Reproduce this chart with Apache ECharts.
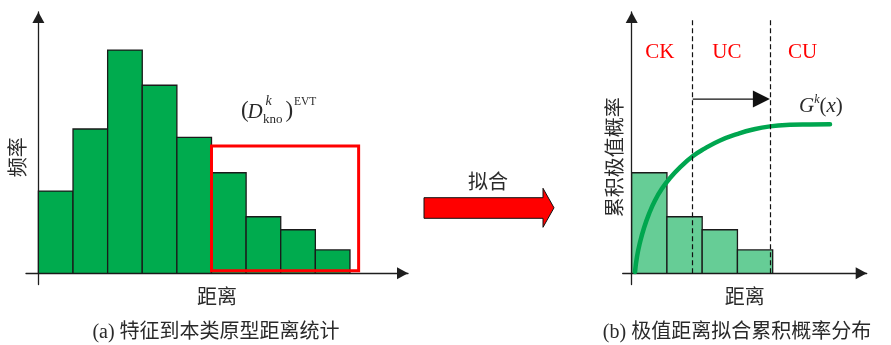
<!DOCTYPE html>
<html>
<head>
<meta charset="utf-8">
<script src="https://cdn.jsdelivr.net/npm/echarts@6/dist/echarts.min.js"></script>
<style>
  html, body { margin: 0; padding: 0; background: #fff; }
  #chart { width: 891px; height: 345px; }
</style>
</head>
<body>
<div id="chart"></div>
<script>
// Frequency of feature-to-prototype distances, one value per distance bin
const freq = [3.74, 6.56, 10.15, 8.55, 6.18, 4.57, 2.57, 1.98, 1.06];
// Bins from this index on form the tail used for the extreme-value fit
const tailStart = 5;
const tailFreq = freq.slice(tailStart);
// Tail selection box: [x from, x to, y from, y to] in bin / frequency units
const tailBox = [tailStart, 9.25, 0.12, 5.79];
// Fitted cumulative extreme-value curve G^k(x)
const curveX = [0.094, 0.15, 0.235, 0.349, 0.491, 0.661, 0.86, 1.087, 1.37, 1.73, 2.08, 2.506, 2.988, 3.442, 3.924, 4.491, 5.058, 5.626];
const curveY = [0.06, 0.745, 1.40, 2.06, 2.70, 3.31, 3.85, 4.33, 4.81, 5.32, 5.68, 6.04, 6.33, 6.54, 6.68, 6.75, 6.77, 6.78];
// Region thresholds along the distance axis and the region names
const thresholds = [1.73, 3.92];
const thresholdTop = 11.5;
const regionNames = ['CK', 'UC', 'CU'];
const regionCenters = [0.8, 2.7, 4.85];
const regionLabelY = 10.04;
const shiftArrowY = 7.92;

const AXIS_COLOR = '#1e1e1e';
const TEXT_COLOR = '#2a2a2a';
const CJK = "'Noto Sans CJK SC', sans-serif";
const SERIF = "'Liberation Serif', 'DejaVu Serif', serif";
const MIXED = "'Liberation Serif', 'Noto Sans CJK SC', serif";

function axisLine() {
  return {
    show: true,
    onZero: true,
    symbol: ['none', 'triangle'],
    symbolSize: [12, 11],
    symbolOffset: [0, -5.5],
    lineStyle: { color: AXIS_COLOR, width: 1.3 }
  };
}

function valueAxis(gridIndex, min, max, name, extra) {
  return Object.assign({
    type: 'value',
    gridIndex,
    min, max,
    name,
    nameLocation: 'middle',
    nameTextStyle: { fontFamily: CJK, fontSize: 20, color: TEXT_COLOR },
    axisLine: axisLine(),
    axisTick: { show: false },
    axisLabel: { show: false },
    splitLine: { show: false }
  }, extra || {});
}

// Histogram bars: each datum is [bin start, bin end, frequency]
function histogramItem(fill) {
  return function (params, api) {
    const p0 = api.coord([api.value(0), 0]);
    const p1 = api.coord([api.value(1), api.value(2)]);
    return {
      type: 'rect',
      shape: { x: p0[0], y: p1[1], width: p1[0] - p0[0], height: p0[1] - p1[1] },
      style: { fill, stroke: '#1a1a1a', lineWidth: 1.3 }
    };
  };
}

const chart = echarts.init(document.getElementById('chart'), null, { renderer: 'canvas' });

chart.setOption({
  animation: false,
  backgroundColor: '#fff',
  grid: [
    { left: 26, right: 483, top: 12, bottom: 60.5, outerBoundsMode: 'none', containLabel: false },
    { left: 622.7, right: 24.3, top: 12, bottom: 60.5, outerBoundsMode: 'none', containLabel: false }
  ],
  xAxis: [
    valueAxis(0, -0.358, 10.676, '距离', { nameGap: 1.5 }),
    valueAxis(1, -0.255, 6.667, '距离', { nameGap: 1.5 })
  ],
  yAxis: [
    valueAxis(0, -0.51, 11.88, '频率', {
      nameGap: -1.8,
      nameTextStyle: { fontFamily: CJK, fontSize: 20, color: TEXT_COLOR, padding: [0, 18, 0, 0] }
    }),
    valueAxis(1, -0.51, 11.88, '累积极值概率', {
      nameGap: -1.8,
      nameTextStyle: { fontFamily: CJK, fontSize: 20, color: TEXT_COLOR, padding: [0, 18, 0, 0] }
    })
  ],
  series: [
    {
      name: '频率',
      type: 'custom',
      xAxisIndex: 0, yAxisIndex: 0,
      renderItem: histogramItem('#00ab4e'),
      data: freq.map((v, i) => [i, i + 1, v]),
      z: 2
    },
    {
      name: 'EVT 区间',
      type: 'custom',
      xAxisIndex: 0, yAxisIndex: 0,
      renderItem: function (params, api) {
        const a = api.coord([api.value(0), api.value(2)]);
        const b = api.coord([api.value(1), api.value(3)]);
        return {
          type: 'rect',
          shape: { x: a[0], y: b[1], width: b[0] - a[0], height: a[1] - b[1] },
          style: { fill: 'none', stroke: '#ff0000', lineWidth: 3 }
        };
      },
      data: [tailBox],
      z: 4
    },
    {
      name: '尾部频率',
      type: 'custom',
      xAxisIndex: 1, yAxisIndex: 1,
      renderItem: histogramItem('#66cd96'),
      data: tailFreq.map((v, i) => [i, i + 1, v]),
      z: 2
    },
    {
      name: 'G^k(x)',
      type: 'line',
      xAxisIndex: 1, yAxisIndex: 1,
      data: curveX.map((x, i) => [x, curveY[i]]),
      smooth: 0.5,
      showSymbol: false,
      lineStyle: { color: '#00a64f', width: 4.5, cap: 'round', join: 'round' },
      z: 3,
      markLine: {
        silent: true,
        symbol: 'none',
        label: { show: false },
        lineStyle: { color: '#111', width: 1.2, type: [5, 3] },
        data: thresholds.map(t => [{ coord: [t, 0] }, { coord: [t, thresholdTop] }])
      }
    },
    {
      name: '阈值移动',
      type: 'custom',
      xAxisIndex: 1, yAxisIndex: 1,
      renderItem: function (params, api) {
        const p0 = api.coord([api.value(0), api.value(2)]);
        const p1 = api.coord([api.value(1), api.value(2)]);
        const head = 17;
        return {
          type: 'group',
          children: [
            { type: 'line', shape: { x1: p0[0], y1: p0[1], x2: p1[0] - head + 1, y2: p1[1] },
              style: { stroke: '#111', lineWidth: 1.4 } },
            { type: 'polygon', shape: { points: [[p1[0] - head, p1[1] - head / 2], [p1[0], p1[1]], [p1[0] - head, p1[1] + head / 2]] },
              style: { fill: '#111' } }
          ]
        };
      },
      data: [[thresholds[0], thresholds[1], shiftArrowY]],
      z: 5
    },
    {
      name: '区域',
      type: 'custom',
      xAxisIndex: 1, yAxisIndex: 1,
      renderItem: function (params, api) {
        const p = api.coord([api.value(0), api.value(1)]);
        return {
          type: 'text',
          x: p[0], y: p[1],
          style: {
            text: regionNames[params.dataIndex],
            fill: '#ff0000',
            fontFamily: SERIF,
            fontSize: 21,
            align: 'center',
            verticalAlign: 'middle'
          }
        };
      },
      data: regionCenters.map(x => [x, regionLabelY]),
      z: 5
    }
  ],
  graphic: [
    // (D_kno^k)^EVT label over the tail box
    { type: 'text', x: 241, y: 111, style: { text: '(', fontFamily: SERIF, fontSize: 23, fill: TEXT_COLOR, align: 'left', verticalAlign: 'middle' } },
    { type: 'text', x: 247.5, y: 112.5, style: { text: 'D', fontFamily: SERIF, fontStyle: 'italic', fontSize: 21, fill: TEXT_COLOR, align: 'left', verticalAlign: 'middle' } },
    { type: 'text', x: 265.5, y: 101.5, style: { text: 'k', fontFamily: SERIF, fontStyle: 'italic', fontSize: 14, fill: TEXT_COLOR, align: 'left', verticalAlign: 'middle' } },
    { type: 'text', x: 263, y: 119.5, style: { text: 'kno', fontFamily: SERIF, fontSize: 13, fill: TEXT_COLOR, align: 'left', verticalAlign: 'middle' } },
    { type: 'text', x: 285.5, y: 111, style: { text: ')', fontFamily: SERIF, fontSize: 23, fill: TEXT_COLOR, align: 'left', verticalAlign: 'middle' } },
    { type: 'text', x: 294, y: 102, style: { text: 'EVT', fontFamily: SERIF, fontSize: 11.5, fill: TEXT_COLOR, align: 'left', verticalAlign: 'middle' } },

    // G^k(x) label near the end of the fitted curve
    { type: 'text', x: 799, y: 106, style: {
        text: '{i|G}{s|k}{n|(}{i|x}{n|)}',
        align: 'left', verticalAlign: 'middle',
        rich: {
          i: { fontFamily: SERIF, fontStyle: 'italic', fontSize: 21, fill: TEXT_COLOR, lineHeight: 24 },
          n: { fontFamily: SERIF, fontSize: 21, fill: TEXT_COLOR, lineHeight: 24 },
          s: { fontFamily: SERIF, fontStyle: 'italic', fontSize: 12, fill: TEXT_COLOR, verticalAlign: 'top', lineHeight: 12 }
        }
    } },

    // Fitting arrow between the two panels
    { type: 'polygon', shape: { points: [[424, 197.7], [543, 197.7], [543, 188.3], [554, 207.8], [543, 227.3], [543, 218.3], [424, 218.3]] },
      style: { fill: '#ff0000', stroke: '#111', lineWidth: 1 } },
    { type: 'text', x: 488, y: 181, style: { text: '拟合', fontFamily: CJK, fontSize: 20, fill: TEXT_COLOR, align: 'center', verticalAlign: 'middle' } },

    // Sub-figure captions
    { type: 'text', x: 216, y: 333, style: { text: '(a) 特征到本类原型距离统计', fontFamily: MIXED, fontSize: 20, fill: TEXT_COLOR, align: 'center', verticalAlign: 'middle' } },
    { type: 'text', x: 737, y: 333, style: { text: '(b) 极值距离拟合累积概率分布', fontFamily: MIXED, fontSize: 20, fill: TEXT_COLOR, align: 'center', verticalAlign: 'middle' } }
  ]
});
</script>
</body>
</html>
